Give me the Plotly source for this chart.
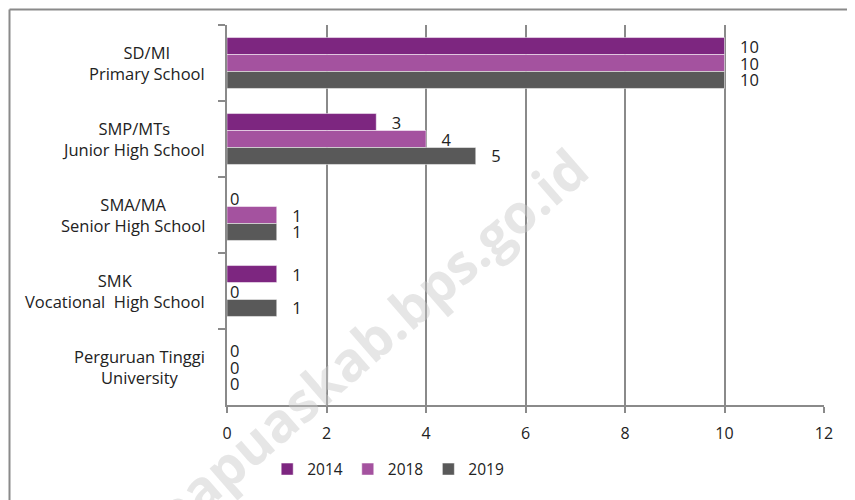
import plotly.graph_objects as go

categories = ["SD/MI<br>Primary School", "SMP/MTs<br>Junior High School",
              "SMA/MA<br>Senior High School", "SMK<br>Vocational  High School",
              "Perguruan Tinggi<br>University"]
series_names = ["2014", "2018", "2019"]
values_2014 = [10, 3, 0, 1, 0]
values_2018 = [10, 4, 1, 0, 0]
values_2019 = [10, 5, 1, 1, 0]
x_ticks = [0, 2, 4, 6, 8, 10, 12]
watermark = "papuaskab.bps.go.id"

colors = ["#7D2680", "#A4529F", "#595959"]
FONT = "Open Sans"
PAD = "\u2002\u00a0"

fig = go.Figure()
for name, vals, col in zip(series_names, [values_2014, values_2018, values_2019], colors):
    fig.add_trace(go.Bar(
        y=categories, x=vals, name=name, orientation="h",
        marker=dict(color=col, line=dict(color="white", width=0.5)),
        text=[(PAD + str(v)) if v else str(v) for v in vals], textposition="outside",
        constraintext="none",
        textfont=dict(family=FONT, size=16.5, color="#222222"),
        cliponaxis=False,
    ))

# the page adds an 8px body margin, so the margins below are shifted by 8px
fig.update_layout(
    width=855, height=500,
    margin=dict(l=219, r=39, t=17, b=103, autoexpand=False),
    paper_bgcolor="white", plot_bgcolor="white",
    barmode="group", bargap=0.33, bargroupgap=0,
    font=dict(family=FONT, size=16, color="#222222"),
    showlegend=True,
    legend=dict(orientation="h", x=0.27, xanchor="center", y=-0.125, yanchor="top",
                font=dict(family=FONT, size=15.5, color="#222222"),
                itemwidth=30, traceorder="normal"),
)
fig.update_xaxes(
    range=[0, 12], tickvals=x_ticks, ticktext=[str(t) for t in x_ticks],
    showgrid=True, gridcolor="#8a8a8a", gridwidth=1.5,
    showline=True, linecolor="#8a8a8a", linewidth=1.5,
    ticks="outside", ticklen=6, tickcolor="#8a8a8a", tickwidth=1.5,
    tickfont=dict(family=FONT, size=16, color="#222222"),
    ticklabelstandoff=7,
    zeroline=False, fixedrange=True,
)
fig.update_yaxes(
    autorange="reversed", showgrid=False, showticklabels=False,
    showline=True, linecolor="#8a8a8a", linewidth=1.5,
    ticks="outside", tickson="boundaries", ticklen=7, tickcolor="#8a8a8a", tickwidth=1.5,
    fixedrange=True,
)
# centred two-line category labels
for cat in categories:
    fig.add_annotation(text=cat, xref="paper", yref="y", x=0, y=cat,
                       xanchor="right", yanchor="middle", align="center",
                       xshift=-20, showarrow=False,
                       font=dict(family=FONT, size=16.5, color="#222222"))
# outer border (only its left and top edges are inside the picture)
fig.add_shape(type="line", xref="paper", yref="paper",
              x0=(1.5 - 219) / 597, x1=(1.5 - 219) / 597, y0=(397 - 1.5) / 380, y1=(397 - 510) / 380,
              line=dict(color="#8a8a8a", width=2))
fig.add_shape(type="line", xref="paper", yref="paper",
              x0=(1.5 - 219) / 597, x1=(860 - 219) / 597, y0=(397 - 1.5) / 380, y1=(397 - 1.5) / 380,
              line=dict(color="#8a8a8a", width=2))
fig.add_annotation(text="<b>" + watermark + "</b>", xref="paper", yref="paper",
                   x=0.24, y=0.17, xanchor="center", yanchor="middle",
                   showarrow=False, textangle=-41,
                   font=dict(family=FONT, size=54, color="rgba(200,200,200,0.45)"))

fig.write_html("out.html", config={"displayModeBar": False})
